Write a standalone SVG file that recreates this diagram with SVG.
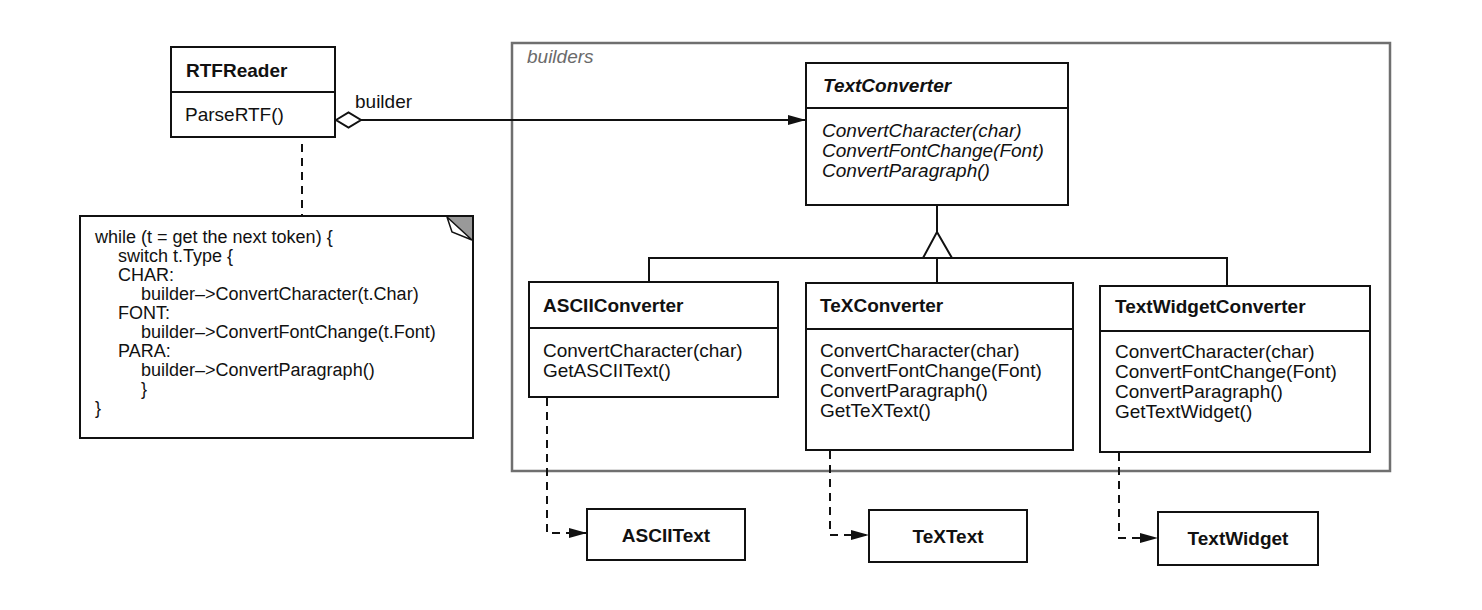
<svg xmlns="http://www.w3.org/2000/svg" width="1482" height="610" viewBox="0 0 1482 610">
<defs>
<style>
.box{fill:#fff;stroke:#111;stroke-width:2}
.ln{stroke:#111;stroke-width:2;fill:none}
.dash{stroke:#111;stroke-width:2;fill:none;stroke-dasharray:8 6}
.t{font-family:"Liberation Sans",Arial,sans-serif;font-size:19px;fill:#111}
.n{font-family:"Liberation Sans",Arial,sans-serif;font-size:18px;fill:#111}
.b{font-weight:bold}
.i{font-style:italic}
.c{text-anchor:middle}
</style>
<marker id="fa" viewBox="0 0 18 10" refX="18" refY="5" markerWidth="18" markerHeight="10" markerUnits="userSpaceOnUse" orient="auto">
<path d="M0,0 L18,5 L0,10 Z" fill="#111"/>
</marker>
</defs>
<rect width="1482" height="610" fill="#fff"/>

<g id="builders-frame">
<rect x="512" y="43" width="878" height="428" fill="none" stroke="#6f6f6f" stroke-width="2.5"/>
<text class="t i" x="527" y="63" style="fill:#6a6a6a">builders</text>
</g>

<g id="connectors">
<path class="ln" d="M361,120 L806,120" marker-end="url(#fa)"/>
<path d="M336,120 L348.5,112.5 L361,120 L348.5,127.5 Z" fill="#fff" stroke="#111" stroke-width="2"/>
<text class="t" x="355" y="108">builder</text>
<circle cx="302" cy="112" r="4.5" fill="#fff" stroke="#111" stroke-width="2"/>
<path class="ln" d="M302,116.5 L302,125"/>
<path class="dash" d="M302,130 L302,216"/>
<path class="ln" d="M937,205 L937,232"/>
<path d="M937,232 L952,258 L923,258 Z" fill="#fff" stroke="#111" stroke-width="2"/>
<path class="ln" d="M649,282 L649,258 L1227,258 L1227,286"/>
<path class="ln" d="M937,258 L937,283"/>
<path class="dash" d="M547,398 L547,533 L587,533" marker-end="url(#fa)"/>
<path class="dash" d="M830,451 L830,535 L869,535" marker-end="url(#fa)"/>
<path class="dash" d="M1119,453 L1119,538 L1158,538" marker-end="url(#fa)"/>
</g>

<g id="RTFReader">
<rect class="box" x="171" y="47" width="164" height="90"/>
<path class="ln" d="M171,92 L335,92"/>
<text class="t b" x="186" y="77">RTFReader</text>
<text class="t" x="185" y="121">ParseRTF()</text>
</g>

<g id="note">
<path d="M80,216 L473,216 L473,438 L80,438 Z" class="box"/>
<path d="M447,217 L472,217 L472,240 Z" fill="#999"/>
<path d="M447,217 L472,240 L452,232 Z" fill="#fff" stroke="#111" stroke-width="1.5"/>
<text class="n" x="95" y="243">while (t = get the next token) {</text>
<text class="n" x="118" y="262">switch t.Type {</text>
<text class="n" x="118" y="281">CHAR:</text>
<text class="n" x="141" y="300">builder–&gt;ConvertCharacter(t.Char)</text>
<text class="n" x="118" y="319">FONT:</text>
<text class="n" x="141" y="338">builder–&gt;ConvertFontChange(t.Font)</text>
<text class="n" x="118" y="357">PARA:</text>
<text class="n" x="141" y="376">builder–&gt;ConvertParagraph()</text>
<text class="n" x="141" y="395">}</text>
<text class="n" x="95" y="414">}</text>
</g>

<g id="TextConverter">
<rect class="box" x="806" y="63" width="262" height="142"/>
<path class="ln" d="M806,108 L1068,108"/>
<text class="t b i" x="823" y="92">TextConverter</text>
<text class="t i" x="822" y="137">ConvertCharacter(char)</text>
<text class="t i" x="822" y="157">ConvertFontChange(Font)</text>
<text class="t i" x="822" y="177">ConvertParagraph()</text>
</g>

<g id="ASCIIConverter">
<rect class="box" x="529" y="282" width="249" height="115"/>
<path class="ln" d="M529,328 L778,328"/>
<text class="t b" x="543" y="312">ASCIIConverter</text>
<text class="t" x="543" y="357">ConvertCharacter(char)</text>
<text class="t" x="543" y="377">GetASCIIText()</text>
</g>

<g id="TeXConverter">
<rect class="box" x="806" y="283" width="267" height="167"/>
<path class="ln" d="M806,329 L1073,329"/>
<text class="t b" x="820" y="312">TeXConverter</text>
<text class="t" x="820" y="357">ConvertCharacter(char)</text>
<text class="t" x="820" y="377">ConvertFontChange(Font)</text>
<text class="t" x="820" y="397">ConvertParagraph()</text>
<text class="t" x="820" y="417">GetTeXText()</text>
</g>

<g id="TextWidgetConverter">
<rect class="box" x="1100" y="286" width="270" height="166"/>
<path class="ln" d="M1100,331 L1370,331"/>
<text class="t b" x="1115" y="313">TextWidgetConverter</text>
<text class="t" x="1115" y="358">ConvertCharacter(char)</text>
<text class="t" x="1115" y="378">ConvertFontChange(Font)</text>
<text class="t" x="1115" y="398">ConvertParagraph()</text>
<text class="t" x="1115" y="418">GetTextWidget()</text>
</g>

<g id="ASCIIText">
<rect class="box" x="587" y="509" width="158" height="51"/>
<text class="t b c" x="666" y="542">ASCIIText</text>
</g>

<g id="TeXText">
<rect class="box" x="869" y="510" width="158" height="52"/>
<text class="t b c" x="948" y="543">TeXText</text>
</g>

<g id="TextWidget">
<rect class="box" x="1158" y="512" width="160" height="53"/>
<text class="t b c" x="1238" y="545">TextWidget</text>
</g>
</svg>
